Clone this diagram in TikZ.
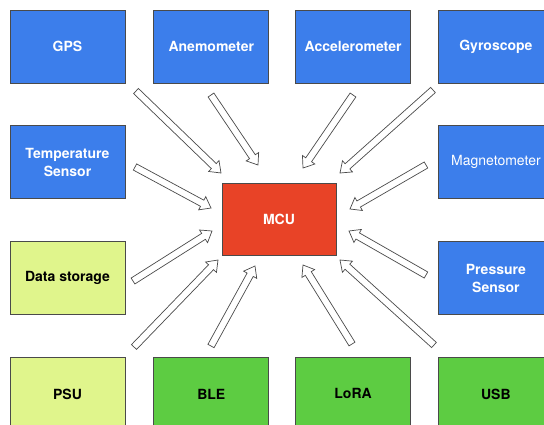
\documentclass[tikz,border=0pt]{standalone}
\usepackage{fontspec}
\setmainfont{TeX Gyre Heros}
\usepackage{tikz}
\usetikzlibrary{positioning, calc}

\definecolor{sensorblue}{HTML}{3C7EEB}
\definecolor{mcured}{HTML}{E84327}
\definecolor{storelime}{HTML}{E0F58C}
\definecolor{linkgreen}{HTML}{5DCC42}
\definecolor{boxline}{HTML}{4A4A4A}

% hollow block arrow from #1 (tail) to #2 (tip)
\newcommand{\blockarrow}[2]{%
  \coordinate (neck) at ($(#2)!10pt!(#1)$);
  \draw[hollow] ($(#1)!3.5pt!90:(#2)$) -- ($(neck)!3.5pt!90:(#2)$) -- ($(neck)!7.5pt!90:(#2)$)
    -- (#2) -- ($(neck)!7.5pt!-90:(#2)$) -- ($(neck)!3.5pt!-90:(#2)$) -- ($(#1)!3.5pt!-90:(#2)$) -- cycle;}

\begin{document}
\begin{tikzpicture}[
    x=1pt, y=-1pt,
    box/.style={draw=boxline, line width=0.8pt, minimum width=115pt, minimum height=73pt, align=center, font=\bfseries\fontsize{14}{18}\selectfont},
    sensor/.style={box, fill=sensorblue, text=white},
    store/.style={box, fill=storelime, text=black},
    link/.style={box, fill=linkgreen, text=black},
    hollow/.style={draw=boxline, fill=white, line width=0.7pt, line join=miter}
]
\useasboundingbox (0,0) rectangle (544,424);
\clip (0,0) rectangle (544,424);

% top row
\node[sensor] (gps) at (67.5,46.5) {GPS};
\node[sensor, right=28pt of gps] (anemo) {Anemometer};
\node[sensor, right=26pt of anemo] (accel) {Accelerometer};
\node[sensor, right=27pt of accel] (gyro) {Gyroscope};

% sides
\node[sensor, below=42pt of gps] (temp) {Temperature\\Sensor};
\node[store, below=42pt of temp] (storage) {Data storage};
\node[sensor, below=42pt of gyro, font=\fontsize{14}{18}\selectfont] (magneto) {Magnetometer};
\node[sensor, below=42pt of magneto] (press) {Pressure\\Sensor};

% bottom row
\node[store, below=42pt of storage] (psu) {PSU};
\node[link, right=28pt of psu] (ble) {BLE};
\node[link, right=26pt of ble] (lora) {LoRA};
\node[link, right=27pt of lora] (usb) {USB};

\node[box, fill=mcured, text=white, minimum width=114pt, minimum height=72pt] (mcu) at (279,219) {MCU};

% arrow ends
\coordinate (gps-t) at (136,91);     \coordinate (gps-h) at (221,173);
\coordinate (anemo-t) at (211,95);   \coordinate (anemo-h) at (258,165);
\coordinate (temp-t) at (135,167);   \coordinate (temp-h) at (211,208);
\coordinate (accel-t) at (353,95);   \coordinate (accel-h) at (303,168);
\coordinate (gyro-t) at (433,90);    \coordinate (gyro-h) at (340,173);
\coordinate (magneto-t) at (426,165);\coordinate (magneto-h) at (350,209);
\coordinate (storage-t) at (133,281);\coordinate (storage-h) at (212,231);
\coordinate (press-t) at (426,275);  \coordinate (press-h) at (349,231);
\coordinate (psu-t) at (134,347);    \coordinate (psu-h) at (218,260);
\coordinate (ble-t) at (211,346);    \coordinate (ble-h) at (255,266);
\coordinate (lora-t) at (352,344);   \coordinate (lora-h) at (303,265);
\coordinate (usb-t) at (434,345);    \coordinate (usb-h) at (340,260);

\foreach \s in {gps, anemo, temp, accel, gyro, magneto, storage, press, psu, ble, lora, usb}
  \blockarrow{\s-t}{\s-h};
\end{tikzpicture}
\end{document}
